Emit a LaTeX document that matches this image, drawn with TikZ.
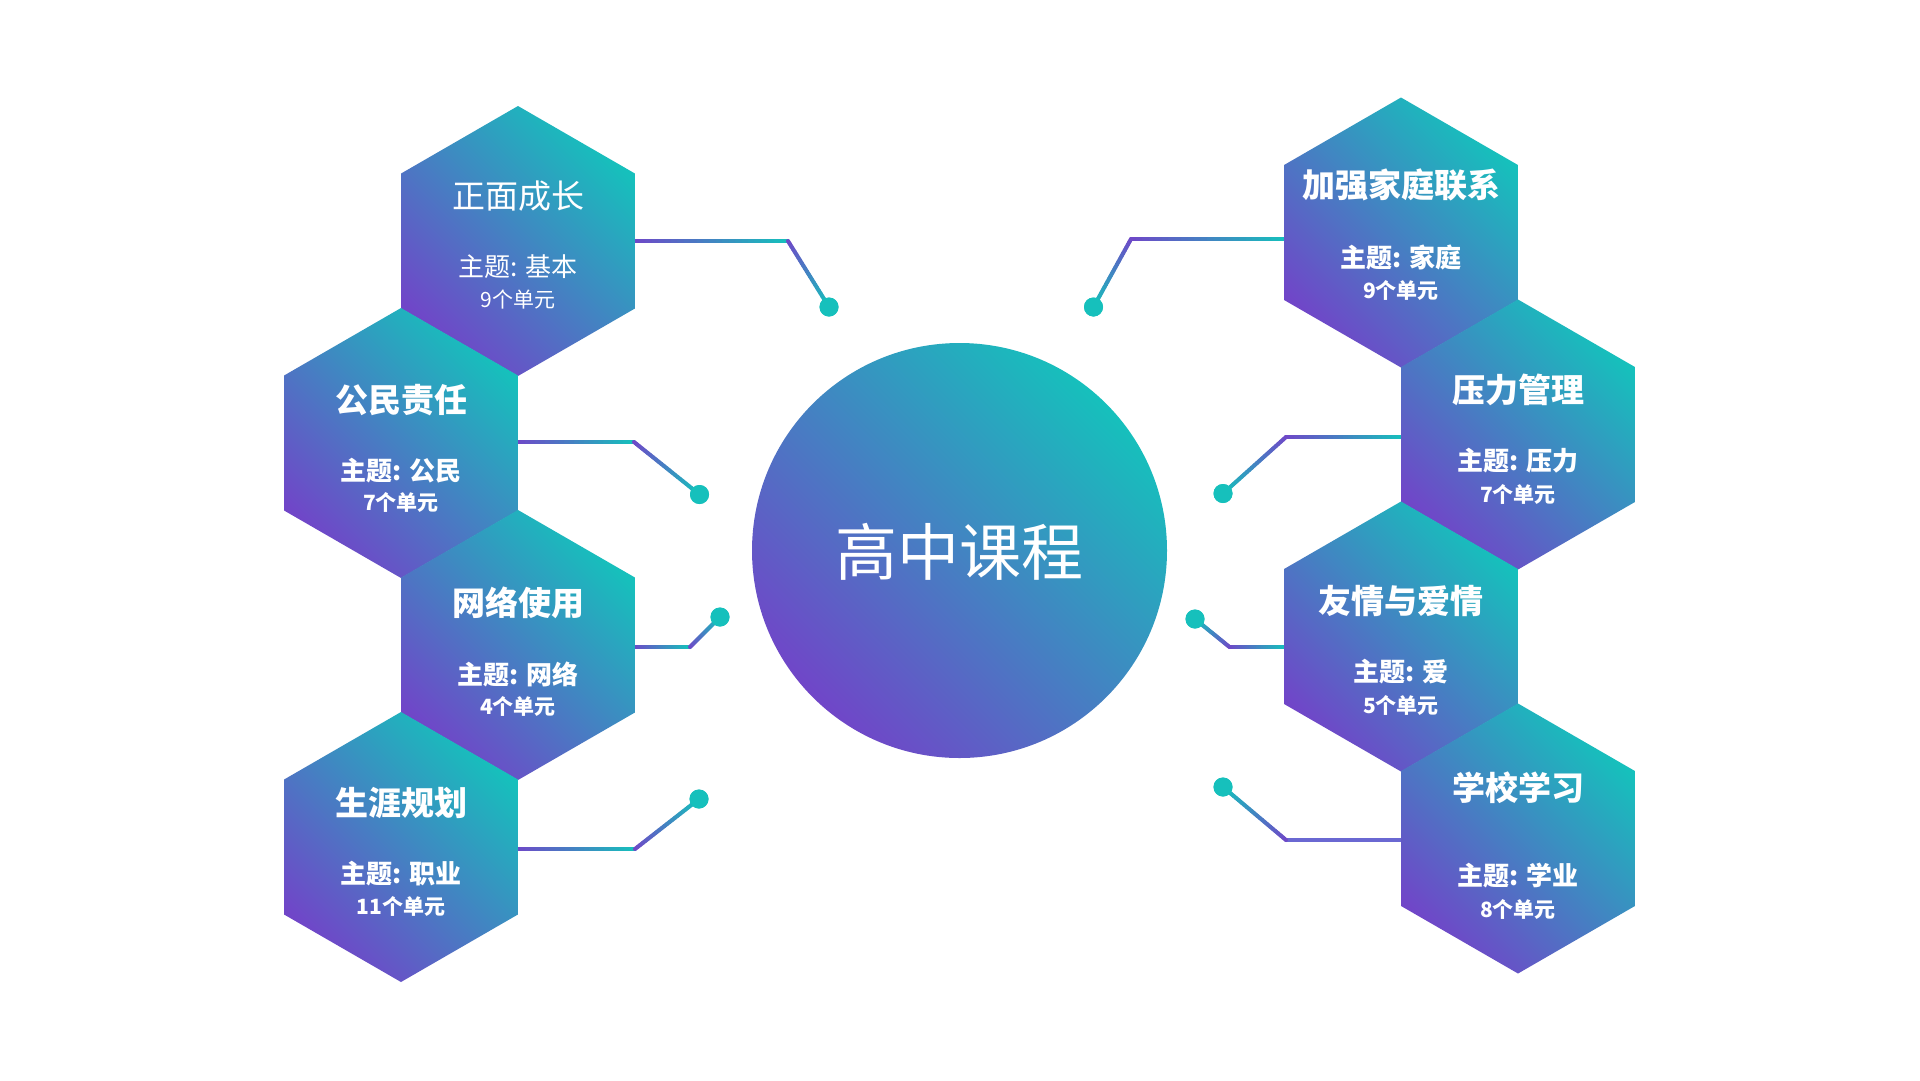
\documentclass[tikz,border=0pt]{standalone}
\usepackage{fontspec}
\setmainfont{Noto Sans CJK SC}
\usetikzlibrary{calc}
\definecolor{tealc}{RGB}{22,192,188}
\definecolor{purpc}{RGB}{112,70,200}
\definecolor{lineblue}{RGB}{106,104,210}
\newcommand\hexpath[1]{($(#1)+(90:135)$) -- ($(#1)+(30:135)$) -- ($(#1)+(-30:135)$) -- ($(#1)+(-90:135)$) -- ($(#1)+(-150:135)$) -- ($(#1)+(150:135)$) -- cycle}
\newcommand\gradseg[4]{%
  \foreach \i in {1,...,24}{%
    \pgfmathsetmacro\ta{(\i-1)/24}%
    \pgfmathsetmacro\tb{\i/24}%
    \pgfmathsetmacro\pc{100*(\i-0.5)/24}%
    \draw[conn,color=#4!\pc!#3] ($(#1)!\ta!(#2)$) -- ($(#1)!\tb!(#2)$);
  }%
}
\tikzset{
  gradfill/.style={top color=tealc, bottom color=purpc, shading angle=-45},
  conn/.style={line width=4, line cap=round},
  dotnode/.style={circle, fill=tealc, inner sep=0pt, minimum size=19pt},
  htitle/.style={text=white, inner sep=0pt, font=\fontsize{33}{40}\selectfont\bfseries},
  hsub/.style={text=white, inner sep=0pt, font=\fontsize{26}{31}\selectfont\bfseries},
  hcount/.style={text=white, inner sep=0pt, font=\fontsize{21}{25}\selectfont\bfseries},
  htitleL/.style={text=white, inner sep=0pt, font=\fontsize{33}{40}\selectfont},
  hsubL/.style={text=white, inner sep=0pt, font=\fontsize{26}{31}\selectfont},
  hcountL/.style={text=white, inner sep=0pt, font=\fontsize{21}{25}\selectfont},
  maintitle/.style={text=white, inner sep=0pt, font=\fontsize{62}{74}\selectfont},
}
\begin{document}
\begin{tikzpicture}[x=1pt,y=-1pt]
\fill[white] (0,0) rectangle (1920,1080);
\useasboundingbox (0,0) rectangle (1920,1080);

% hexagon centres
\coordinate (h1) at (518,241);
\coordinate (h2) at (401,443);
\coordinate (h3) at (518,645);
\coordinate (h4) at (401,847);
\coordinate (h5) at (1401,232.5);
\coordinate (h6) at (1518,434.5);
\coordinate (h7) at (1401,636.5);
\coordinate (h8) at (1518,838.5);
\coordinate (c0) at (959.5,550.5);

% connector points
\coordinate (s1) at (634,241);   \coordinate (k1) at (788,241);
\coordinate (s2) at (517,442);   \coordinate (k2) at (634,442);
\coordinate (s3) at (634,647);   \coordinate (k3) at (690,647);
\coordinate (s4) at (517,849);   \coordinate (k4) at (635,849);
\coordinate (s5) at (1286,239);  \coordinate (k5) at (1131,239);
\coordinate (s6) at (1403,437);  \coordinate (k6) at (1286,437);
\coordinate (s7) at (1286,647);  \coordinate (k7) at (1229.5,647);
\coordinate (s8) at (1403,840);  \coordinate (k8) at (1286,840);

% connectors
\gradseg{s1}{k1}{purpc}{tealc}
\gradseg{s2}{k2}{purpc}{tealc}
\gradseg{s3}{k3}{purpc}{tealc}
\gradseg{s4}{k4}{purpc}{tealc}
\gradseg{k5}{s5}{purpc}{tealc}
\gradseg{k6}{s6}{purpc}{tealc}
\gradseg{k7}{s7}{purpc}{tealc}
\draw[conn, lineblue] (k8) -- (s8);

\node[dotnode] (d1) at (829,307) {};
\node[dotnode] (d2) at (699.5,494.5) {};
\node[dotnode] (d3) at (720,617) {};
\node[dotnode] (d4) at (699,799) {};
\node[dotnode] (d5) at (1093.5,307) {};
\node[dotnode] (d6) at (1223,493.5) {};
\node[dotnode] (d7) at (1195,619) {};
\node[dotnode] (d8) at (1223,787) {};

\gradseg{k1}{d1.center}{purpc}{tealc}
\gradseg{k2}{d2.center}{purpc}{tealc}
\gradseg{k3}{d3.center}{purpc}{tealc}
\gradseg{k4}{d4.center}{purpc}{tealc}
\gradseg{k5}{d5.center}{purpc}{tealc}
\gradseg{k6}{d6.center}{purpc}{tealc}
\gradseg{k7}{d7.center}{purpc}{tealc}
\gradseg{k8}{d8.center}{purpc}{tealc}

\node[dotnode] at (d1) {};
\node[dotnode] at (d2) {};
\node[dotnode] at (d3) {};
\node[dotnode] at (d4) {};
\node[dotnode] at (d5) {};
\node[dotnode] at (d6) {};
\node[dotnode] at (d7) {};
\node[dotnode] at (d8) {};

% hexagons
\foreach \h in {h1,h2,h3,h4,h5,h6,h7,h8}{
  \shade[gradfill] \hexpath{\h};
}

% central circle
\shade[gradfill] (c0) circle[radius=207.5];
\node[maintitle] (mt) at (959.5,552) {高中课程};

% texts left
\node[htitleL] (t1) at (518,196) {正面成长};
\node[hsubL] (u1) at (518,267) {主题: 基本};
\node[hcountL] (n1) at (518,299) {9个单元};

\node[htitle] (t2) at (401,400) {公民责任};
\node[hsub] (u2) at (401,471) {主题: 公民};
\node[hcount] (n2) at (401,502) {7个单元};

\node[htitle] (t3) at (518,603) {网络使用};
\node[hsub] (u3) at (518,674) {主题: 网络};
\node[hcount] (n3) at (518,706) {4个单元};

\node[htitle] (t4) at (401,803) {生涯规划};
\node[hsub] (u4) at (401,874) {主题: 职业};
\node[hcount] (n4) at (401,906) {11个单元};

% texts right
\node[htitle] (t5) at (1401,185) {加强家庭联系};
\node[hsub] (u5) at (1401,257) {主题: 家庭};
\node[hcount] (n5) at (1401,290) {9个单元};

\node[htitle] (t6) at (1518,390) {压力管理};
\node[hsub] (u6) at (1518,461) {主题: 压力};
\node[hcount] (n6) at (1518,494) {7个单元};

\node[htitle] (t7) at (1401,601) {友情与爱情};
\node[hsub] (u7) at (1401,672) {主题: 爱};
\node[hcount] (n7) at (1401,705) {5个单元};

\node[htitle] (t8) at (1518,788) {学校学习};
\node[hsub] (u8) at (1518,875) {主题: 学业};
\node[hcount] (n8) at (1518,909) {8个单元};
\end{tikzpicture}
\end{document}
